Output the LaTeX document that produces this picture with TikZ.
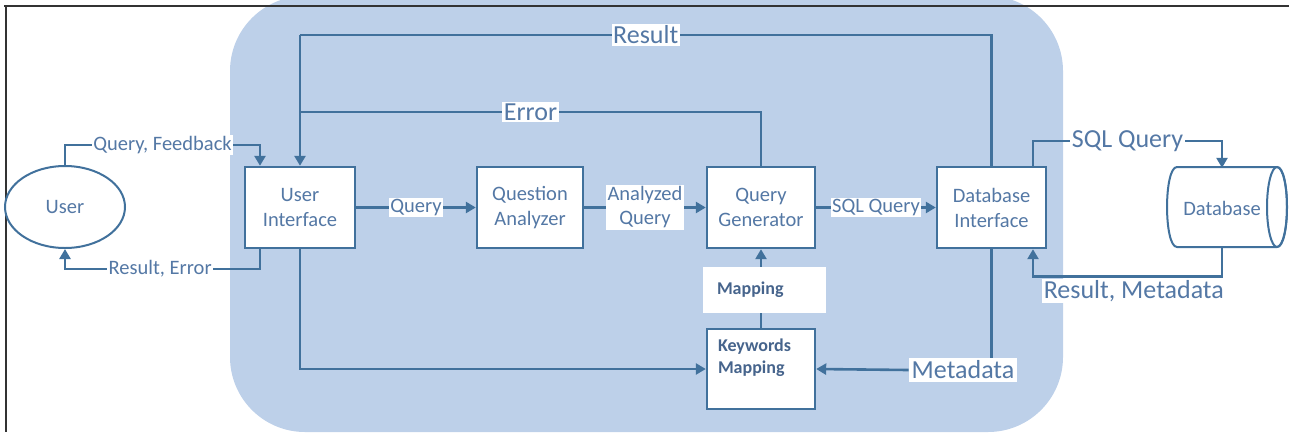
\documentclass[tikz,border=0pt]{standalone}
\usepackage{fontspec}
\setmainfont{Carlito}
\usetikzlibrary{arrows.meta,shapes.geometric,calc}
\definecolor{linec}{RGB}{65,113,156}
\definecolor{bgblue}{RGB}{189,208,233}
\definecolor{txtc}{RGB}{84,120,165}
\definecolor{boldc}{RGB}{70,100,140}
\begin{document}
\begin{tikzpicture}[x=1pt,y=-1pt,
  box/.style={draw=linec, line width=2.4pt, fill=white, text=txtc,
    font=\fontsize{20.5}{25}\selectfont, align=center, inner sep=0pt,
    minimum height=81pt},
  conn/.style={draw=linec, line width=2.6pt},
  arr/.style={conn, -{Triangle[length=10pt,width=11pt]}},
  lbl/.style={fill=white, text=txtc, font=\fontsize{20.5}{24}\selectfont,
    inner sep=1.5pt, align=center},
  biglbl/.style={lbl, font=\fontsize{26}{30}\selectfont},
  boldtxt/.style={text=boldc, font=\bfseries\fontsize{18}{22}\selectfont}]
\useasboundingbox (0,0) rectangle (1289,432);
% background
\fill[bgblue, rounded corners=75pt] (230,-4) rectangle (1063,432);
\draw[line width=1.8pt, black!80] (4,6) -- (1289,6);
\draw[line width=1.8pt, black!80] (6,6) -- (6,432);
% database cylinder outline
\filldraw[fill=white, draw=linec, line width=2pt]
  (1177,167) -- (1277,167) .. controls (1290.3,167) and (1290.3,247) .. (1277,247)
  -- (1177,247) .. controls (1163.7,247) and (1163.7,167) .. (1177,167) -- cycle;
\draw[linec, line width=2pt] (1277,207) ellipse [x radius=10, y radius=40];
% nodes
\node[ellipse, draw=linec, line width=2pt, fill=white, minimum width=120pt,
  minimum height=82pt, text=txtc, font=\fontsize{20.5}{25}\selectfont, inner sep=0pt]
  (user) at (65,207) {User};
\node[box, minimum width=110pt] (ui) at (300,207.5) {User\\Interface};
\node[box, minimum width=106pt] (qa) at (530,207.5) {Question\\Analyzer};
\node[box, minimum width=108pt] (qg) at (761,207.5) {Query\\Generator};
\node[box, minimum width=109pt] (di) at (991.5,207.5) {Database\\Interface};
\node[box, minimum width=108pt, minimum height=80pt,
  label={[boldtxt, anchor=north west, align=left, inner sep=0pt, xshift=12pt, yshift=-11pt]north west:Keywords\\Mapping}]
  (km) at (761,369) {};
\node[fill=white, minimum width=123pt, minimum height=46pt, text width=95pt,
  align=left, inner xsep=14pt, inner ysep=0pt, boldtxt] (map) at (764.5,290) {Mapping};
\node[minimum width=110pt, minimum height=80pt, inner sep=0pt, text=txtc,
  font=\fontsize{20.5}{25}\selectfont] (db) at (1222,208) {Database};
\node[biglbl, inner sep=3pt] (md) at (963,370) {Metadata};
\coordinate (rtop) at (300,35);
\coordinate (etop) at (300,112);
% connectors
\draw[arr] (user.north) -- ++(0,-20) -| node[lbl, pos=0.25] {Query, Feedback} ([xshift=-40pt]ui.north);
\draw[arr] ([xshift=-40pt]ui.south) |- node[lbl, pos=0.756] {Result, Error} ($(user.south)+(0,20)$) -- (user.south);
\draw[arr] (ui) -- node[lbl] {Query} (qa);
\draw[arr] (qa) -- node[lbl] {Analyzed\\Query} (qg);
\draw[arr] (qg) -- node[lbl] {SQL Query} (di);
\draw[conn] (di.north) |- node[biglbl, pos=0.75] {Result} (rtop);
\draw[conn] (qg.north) |- node[biglbl, pos=0.75] {Error} (etop);
\draw[arr] (rtop) -- (ui.north);
\draw[arr] (ui.south) |- (km.west);
\draw[arr] ([xshift=41.5pt]di.north) |- node[biglbl, pos=0.75] {SQL Query} ($(db.north)+(0,-27)$) -- (db.north);
\draw[arr] (db.south) -- ++(0,28) -| node[biglbl, pos=0.479, anchor=north west, yshift=-1pt] {Result, Metadata} ([xshift=41.5pt]di.south);
\draw[conn] (di.south) -- (di.south |- md.north);
\draw[arr] (md.west) -- (km.east);
\draw[conn] (km.north) -- (km.north |- map.south);
\draw[arr] (km.north |- map.north) -- (qg.south);
\end{tikzpicture}
\end{document}
